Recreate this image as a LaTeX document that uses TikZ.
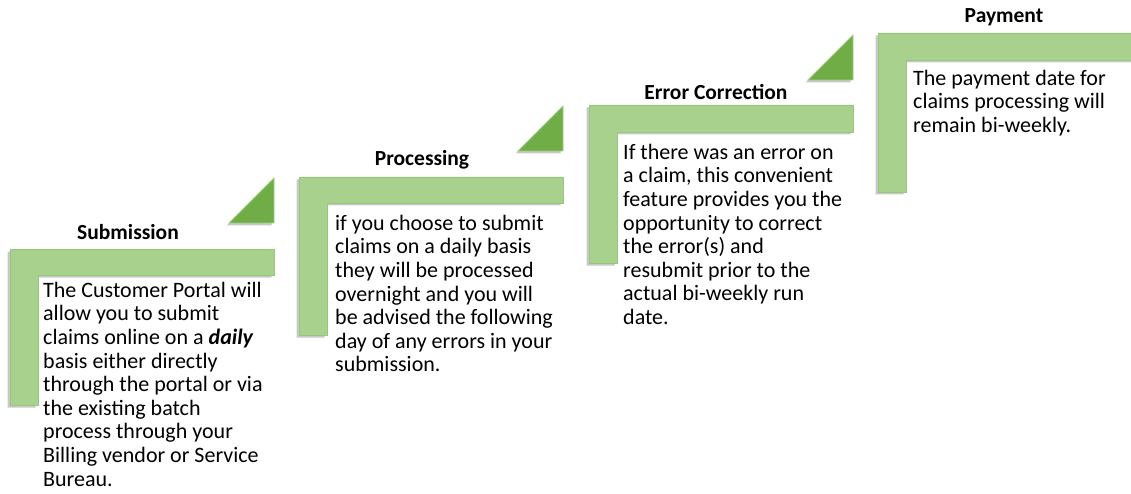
\documentclass[tikz,border=0pt]{standalone}
\usepackage{fontspec}
\setmainfont{Carlito}
\usetikzlibrary{shadows}
\definecolor{barfill}{HTML}{A9D18E}
\definecolor{baredge}{HTML}{96C77A}
\definecolor{trifill}{HTML}{70AD47}
\definecolor{triedge}{HTML}{9FD083}
\tikzset{
  stepbar/.style={fill=barfill, draw=baredge, line width=0.8pt,
    drop shadow={shadow xshift=-2.5pt, shadow yshift=-2.5pt, opacity=0.3, fill=black!70}},
  steptri/.style={fill=trifill, draw=triedge, line width=0.8pt,
    drop shadow={shadow xshift=-2.5pt, shadow yshift=-2.5pt, opacity=0.3, fill=black!70}},
  steptitle/.style={font=\fontsize{21.5}{23.6}\selectfont\bfseries, inner sep=0pt, anchor=center},
  stepbody/.style={font=\fontsize{22}{23.6}\selectfont, align=left, inner sep=0pt, anchor=north west}
}
\begin{document}
\begin{tikzpicture}[x=1pt,y=-1pt]
\path[use as bounding box, fill=white] (0,0) rectangle (1131,494);

% Step 1: Submission
\path[stepbar] (10,249) -- (274,249) -- (274,275) -- (38,275) -- (38,405) -- (10,405) -- cycle;
\path[steptri] (274,178) -- (274,223) -- (229,223) -- cycle;
\node[steptitle] (t1) at (128,232) {Submission};
\node[stepbody] (b1) at (43,280.5) {\strut The Customer Portal will\\allow you to submit\\claims online on a \textbf{\textit{daily}}\\basis either directly\\through the portal or via\\the existing batch\\process through your\\Billing vendor or Service\\Bureau.};

% Step 2: Processing
\path[stepbar] (299,177) -- (563,177) -- (563,203) -- (327,203) -- (327,335) -- (299,335) -- cycle;
\path[steptri] (563,106) -- (563,151) -- (518,151) -- cycle;
\node[steptitle] (t2) at (422,160) {Processing};
\node[stepbody] (b2) at (335,213.5) {\strut if you choose to submit\\claims on a daily basis\\they will be processed\\overnight and you will\\be advised the following\\day of any errors in your\\submission.};

% Step 3: Error Correction
\path[stepbar] (589,105) -- (853,105) -- (853,132) -- (617,132) -- (617,263) -- (589,263) -- cycle;
\path[steptri] (853,35) -- (853,80) -- (808,80) -- cycle;
\node[steptitle] (t3) at (716,92) {Error Correction};
\node[stepbody] (b3) at (623,142.5) {\strut If there was an error on\\a claim, this convenient\\feature provides you the\\opportunity to correct\\the error(s) and\\resubmit prior to the\\actual bi-weekly run\\date.};

% Step 4: Payment
\path[stepbar] (878,33) -- (1145,33) -- (1145,60) -- (906,60) -- (906,192) -- (878,192) -- cycle;
\node[steptitle] (t4) at (1004,17) {Payment};
\node[stepbody] (b4) at (913,68.5) {\strut The payment date for\\claims processing will\\remain bi-weekly.};
\end{tikzpicture}
\end{document}
